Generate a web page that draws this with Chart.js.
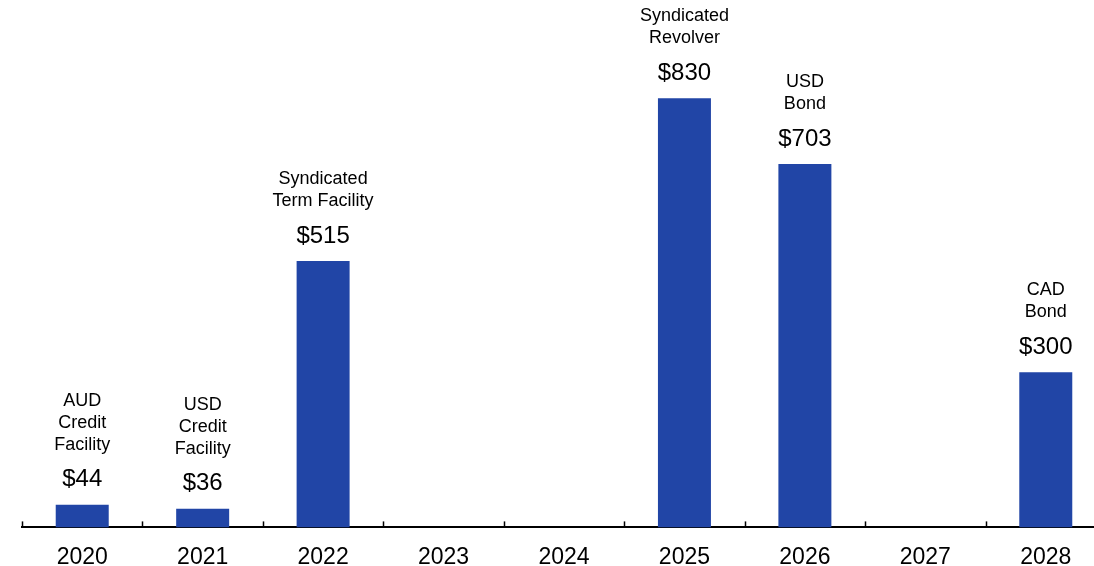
<!DOCTYPE html>
<html>
<head>
<meta charset="utf-8">
<script src="https://cdn.jsdelivr.net/npm/chart.js@4"></script>
<style>
  html, body { margin: 0; padding: 0; background: #fff; overflow: hidden; }
  #wrap { width: 1108px; height: 566px; position: relative; }
</style>
</head>
<body>
<div id="wrap"><canvas id="maturities"></canvas></div>
<script>
const years = ["2020", "2021", "2022", "2023", "2024", "2025", "2026", "2027", "2028"]
const amounts = [44, 36, 515, null, null, 830, 703, null, 300]
const facilities = [
  ["AUD", "Credit", "Facility"],
  ["USD", "Credit", "Facility"],
  ["Syndicated", "Term Facility"],
  [],
  [],
  ["Syndicated", "Revolver"],
  ["USD", "Bond"],
  [],
  ["CAD", "Bond"]
]

const FONT = "'Liberation Sans', Arial, sans-serif"

// Value and facility name above each bar
const barLabels = {
  id: "barLabels",
  afterDatasetsDraw(chart) {
    const ctx = chart.ctx
    const meta = chart.getDatasetMeta(0)
    ctx.save()
    ctx.fillStyle = "#000"
    ctx.textAlign = "center"
    ctx.textBaseline = "middle"
    meta.data.forEach((bar, i) => {
      const v = amounts[i]
      if (v == null) return
      const valueY = bar.y - 25
      ctx.font = "24px " + FONT
      ctx.fillText("$" + v, bar.x, valueY)
      ctx.font = "18px " + FONT
      const lines = facilities[i]
      lines.forEach((line, j) => {
        const y = valueY - 35 - (lines.length - 1 - j) * 22
        ctx.fillText(line, bar.x, y)
      })
    })
    ctx.restore()
  }
}

// Short upward ticks between categories
const categoryTicks = {
  id: "categoryTicks",
  afterDraw(chart) {
    const x = chart.scales.x
    const ctx = chart.ctx
    const bottom = chart.chartArea.bottom
    const step = (x.right - x.left) / years.length
    ctx.save()
    ctx.strokeStyle = "#000"
    ctx.lineWidth = 1.5
    for (let i = 0; i <= years.length; i++) {
      const px = Math.round(x.left + i * step) + 0.5
      ctx.beginPath()
      ctx.moveTo(px, bottom)
      ctx.lineTo(px, bottom - 6)
      ctx.stroke()
    }
    ctx.restore()
  }
}

new Chart(document.getElementById("maturities"), {
  type: "bar",
  data: {
    labels: years,
    datasets: [{
      data: amounts,
      backgroundColor: "rgb(33, 69, 166)",
      barPercentage: 0.44,
      categoryPercentage: 1
    }]
  },
  options: {
    responsive: true,
    maintainAspectRatio: false,
    animation: false,
    layout: { padding: { left: 22, right: 2, top: 0, bottom: -21 } },
    plugins: {
      legend: { display: false },
      tooltip: { enabled: false }
    },
    scales: {
      x: {
        grid: { display: false, drawTicks: false },
        border: { display: true, color: "#000", width: 2 },
        ticks: {
          color: "#000",
          padding: 16,
          font: { family: FONT, size: 23 }
        }
      },
      y: {
        display: false,
        min: 0,
        max: 1020
      }
    }
  },
  plugins: [barLabels, categoryTicks]
})
</script>
</body>
</html>
